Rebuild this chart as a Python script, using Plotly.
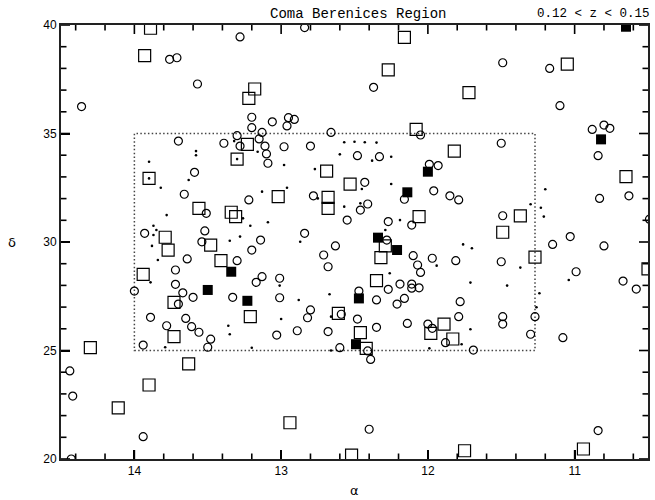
import numpy as np
import plotly.graph_objects as go

# ---- data (alpha [h], delta [deg]) ----
dots_ra = [13.32, 13.58, 13.58, 13.90, 13.16, 12.57, 12.50, 12.43, 12.35, 12.60, 12.38, 12.25, 12.98, 12.77,
           13.30, 13.90, 13.63, 13.82, 13.78, 13.26, 13.21, 13.87, 13.85, 13.87, 13.28, 13.35, 13.88, 13.84,
           13.89, 13.79, 13.36, 13.35, 13.20, 12.66, 11.99, 13.00, 11.71, 11.77, 11.20, 11.30, 11.23, 11.21,
           11.76, 11.70, 11.37, 11.71, 11.46, 11.04, 11.24, 11.26, 12.45, 12.25, 13.13, 12.96, 12.75, 12.57,
           12.46, 13.09, 12.19, 12.29, 12.87, 11.94, 12.26, 13.01, 12.88, 12.67, 12.66]
dots_dec = [34.65, 34.19, 34.00, 33.70, 34.16, 34.60, 34.62, 34.60, 34.58, 34.04, 33.75, 33.93, 33.55, 33.36,
            33.82, 32.93, 32.86, 32.50, 31.24, 31.09, 30.75, 30.75, 30.55, 30.32, 30.25, 30.06, 29.82, 29.17,
            28.14, 25.15, 26.14, 25.75, 25.13, 25.00, 25.10, 26.45, 25.98, 25.29, 32.43, 31.74, 31.58, 31.17,
            29.89, 29.71, 28.82, 28.13, 27.99, 28.25, 27.64, 26.99, 32.44, 32.67, 32.32, 32.50, 32.01, 31.63,
            31.78, 30.91, 31.01, 30.55, 30.01, 28.91, 28.56, 27.99, 27.33, 27.59, 26.56]

circ_ra = [13.76, 13.71, 13.28, 13.57, 14.36, 13.20, 13.20, 13.70, 13.39, 13.30, 13.28,
           12.84, 12.37, 13.13, 13.15, 13.11, 13.10, 13.09, 13.06, 12.95, 12.91, 12.96, 12.98, 12.80, 12.66,
           12.48, 12.33, 12.05, 11.99, 11.93,
           11.49, 11.17, 11.10, 10.88, 10.80, 10.76, 10.84, 11.50,
           13.59, 13.66, 13.22, 13.51, 13.93, 13.52, 13.54, 13.20, 13.64, 13.30, 13.72, 13.72, 13.17, 14.00,
           13.67, 13.60, 13.70, 13.33, 13.89, 13.65,
           13.78, 13.61, 13.56, 13.48, 13.50, 13.94, 14.44, 14.42, 13.94, 14.43,
           12.82, 12.48, 13.03, 12.89, 12.68, 12.35, 12.14, 12.00, 11.97, 11.88, 12.60, 12.41, 12.39, 12.40,
           11.79, 11.49, 11.49, 11.27, 11.30, 11.08, 11.69, 10.84,
           10.83, 10.63, 10.49, 11.03, 11.15, 10.80, 11.49, 11.50, 11.79, 10.99, 10.67, 10.58, 11.78,
           12.43, 12.16, 11.96, 11.85, 12.78, 12.46, 12.41, 12.55, 12.27, 12.11, 12.84, 13.14, 12.28, 12.63,
           12.71, 12.68, 12.10, 11.97, 12.07, 12.05, 11.81, 12.27, 12.19, 12.11, 12.11, 12.06, 13.13, 13.01,
           13.01, 12.47, 12.35, 12.16, 12.21, 12.80, 12.59]
circ_dec = [38.42, 38.49, 39.45, 37.28, 36.24, 35.75, 35.27, 34.65, 34.55, 34.90, 34.42,
            39.88, 37.13, 35.05, 34.75, 34.42, 34.06, 33.63, 35.54, 35.73, 35.65, 35.35, 34.39, 34.42, 35.05,
            33.98, 33.93, 34.93, 33.58, 33.52,
            38.26, 38.00, 36.28, 35.19, 35.39, 35.24, 33.98, 34.55,
            33.21, 32.20, 31.94, 31.32, 30.40, 30.51, 30.01, 29.63, 29.22, 29.14, 28.71, 28.05, 28.14, 27.74,
            27.66, 27.45, 27.14, 27.45, 26.53, 26.48,
            26.14, 26.10, 25.84, 25.52, 25.15, 25.25, 24.06, 22.90, 21.03, 20.00,
            26.51, 26.45, 25.71, 25.91, 25.87, 26.07, 26.25, 26.22, 26.02, 25.36, 25.13, 24.98, 24.59, 21.37,
            26.56, 26.56, 26.22, 26.56, 25.75, 25.59, 25.02, 21.31,
            32.01, 32.13, 31.05, 30.25, 29.89, 29.82, 31.21, 29.09, 31.94, 28.63, 28.20, 27.83, 27.25,
            32.75, 31.97, 32.36, 32.13, 32.13, 31.47, 31.75, 31.01, 30.94, 30.78, 30.40, 30.09, 30.09, 29.82,
            29.40, 28.86, 29.37, 29.25, 28.94, 28.60, 29.14, 27.82, 28.06, 28.06, 27.87, 27.89, 28.40, 28.33,
            27.43, 27.74, 27.33, 27.40, 27.14, 26.87, 26.67]

sq_ra = [13.89, 13.93, 13.18, 13.22, 13.23, 13.30,
         12.16, 12.27, 12.08, 11.82, 12.69,
         11.05, 11.72,
         13.90, 13.56, 13.34, 13.31, 13.79, 13.48, 13.77, 13.41, 13.94, 13.73, 13.21,
         13.73, 14.30, 13.63, 13.90, 14.11,
         12.61, 12.46, 11.98, 11.89, 11.83, 12.42, 12.94, 12.52, 11.75,
         10.94,
         10.65, 11.37, 11.49, 11.27, 10.50,
         12.53, 13.02, 12.68, 12.68, 12.06, 12.29, 12.32, 12.35]
sq_dec = [39.85, 38.59, 37.05, 36.62, 34.50, 33.82,
          39.43, 37.93, 35.19, 34.19, 33.27,
          38.20, 36.88,
          32.93, 31.55, 31.37, 31.17, 30.22, 29.86, 29.63, 29.14, 28.51, 27.22, 26.56,
          25.64, 25.13, 24.38, 23.41, 22.36,
          26.71, 25.82, 25.79, 26.22, 25.53, 25.10, 21.67, 20.18, 20.38,
          20.46,
          33.01, 31.20, 30.45, 29.30, 28.76,
          32.67, 32.09, 32.06, 31.55, 31.17, 29.82, 29.28, 28.22]

fsq_ra = [10.65, 12.00, 12.14, 10.82, 13.34, 13.50, 13.23, 12.34, 12.21, 12.47, 12.49]
fsq_dec = [39.92, 33.24, 32.29, 34.73, 28.63, 27.79, 27.29, 30.20, 29.63, 27.40, 25.29]

# survey region boundary
region_ra = [14.0, 11.27]
region_dec = [25.0, 35.0]

x_range = [14.5, 10.5]
y_range = [20, 40]
x_major = [14, 13, 12, 11]
y_major = [20, 25, 30, 35, 40]
x_minor = [round(v, 1) for v in np.arange(10.6, 14.41, 0.2) if abs(v - round(v)) > 1e-6]
y_minor = [v for v in range(21, 40) if v % 5]

# tick lengths expressed in axis units (plot area is 587 x 434 px for 4 h x 20 deg)
px_per_dec = 434 / (y_range[1] - y_range[0])
px_per_ra = 587 / abs(x_range[1] - x_range[0])
tx, ty = [], []
for xs, lpx in ((x_major, 9), (x_minor, 5.5)):
    L = lpx / px_per_dec
    for v in xs:
        tx += [v, v, None, v, v, None]
        ty += [y_range[0], y_range[0] + L, None, y_range[1], y_range[1] - L, None]
for ys, lpx in ((y_major, 9), (y_minor, 5.5)):
    L = lpx / px_per_ra
    for v in ys:
        tx += [x_range[0], x_range[0] - L, None, x_range[1], x_range[1] + L, None]
        ty += [v, v, None, v, v, None]

fig = go.Figure()
fig.add_trace(go.Scatter(x=tx, y=ty, mode="lines", line=dict(color="black", width=1.6),
                         hoverinfo="skip", connectgaps=False))
fig.add_trace(go.Scatter(x=dots_ra, y=dots_dec, mode="markers",
                         marker=dict(symbol="circle", size=2.6, color="black", line=dict(width=0))))
fig.add_trace(go.Scatter(x=circ_ra, y=circ_dec, mode="markers",
                         marker=dict(symbol="circle-open", size=8, color="black", line=dict(width=1.2, color="black"))))
fig.add_trace(go.Scatter(x=sq_ra, y=sq_dec, mode="markers",
                         marker=dict(symbol="square-open", size=12, color="black", line=dict(width=1.2, color="black"))))
fig.add_trace(go.Scatter(x=fsq_ra, y=fsq_dec, mode="markers",
                         marker=dict(symbol="square", size=10, color="black", line=dict(width=0))))

fig.add_shape(type="rect", xref="x", yref="y",
              x0=region_ra[0], x1=region_ra[1], y0=region_dec[0], y1=region_dec[1],
              line=dict(color="#444", width=1.5, dash="1.5px,2.3px"), layer="below")

tick_font = dict(family="Liberation Sans", size=12, color="black")
axis_common = dict(showgrid=False, zeroline=False, showline=True, linecolor="#222", linewidth=1.8,
                   mirror=True, ticks="inside", ticklen=9, tickwidth=1.6, tickcolor="black",
                   tickfont=tick_font)

fig.update_layout(
    template="none",
    width=655, height=500, showlegend=False,
    margin=dict(l=61, r=7, t=25, b=41, pad=0),
    plot_bgcolor="white", paper_bgcolor="white",
    xaxis=dict(range=x_range, tickmode="array", tickvals=x_major, **axis_common),
    yaxis=dict(range=y_range, tickmode="array", tickvals=y_major, **axis_common),
    annotations=[
        dict(text="Coma Berenices Region", xref="paper", yref="paper", x=0.506, y=1.026,
             xanchor="center", yanchor="middle", showarrow=False,
             font=dict(family="Liberation Mono", size=14, color="black")),
        dict(text="0.12 &lt; z &lt; 0.15", xref="paper", yref="paper", x=1.007, y=1.026,
             xanchor="right", yanchor="middle", showarrow=False,
             font=dict(family="Liberation Mono", size=12.5, color="black")),
        dict(text="α", xref="paper", yref="paper", x=0.5, y=-0.0945,
             xanchor="center", yanchor="bottom", showarrow=False,
             font=dict(family="DejaVu Sans", size=13, color="black")),
        dict(text="δ", xref="paper", yref="paper", x=-0.083, y=0.5,
             xanchor="center", yanchor="middle", showarrow=False,
             font=dict(family="DejaVu Sans", size=13, color="black")),
    ],
)

fig.write_html("out.html", config={"displayModeBar": False},
               post_script="document.body.style.margin='0';document.body.style.padding='0';")
